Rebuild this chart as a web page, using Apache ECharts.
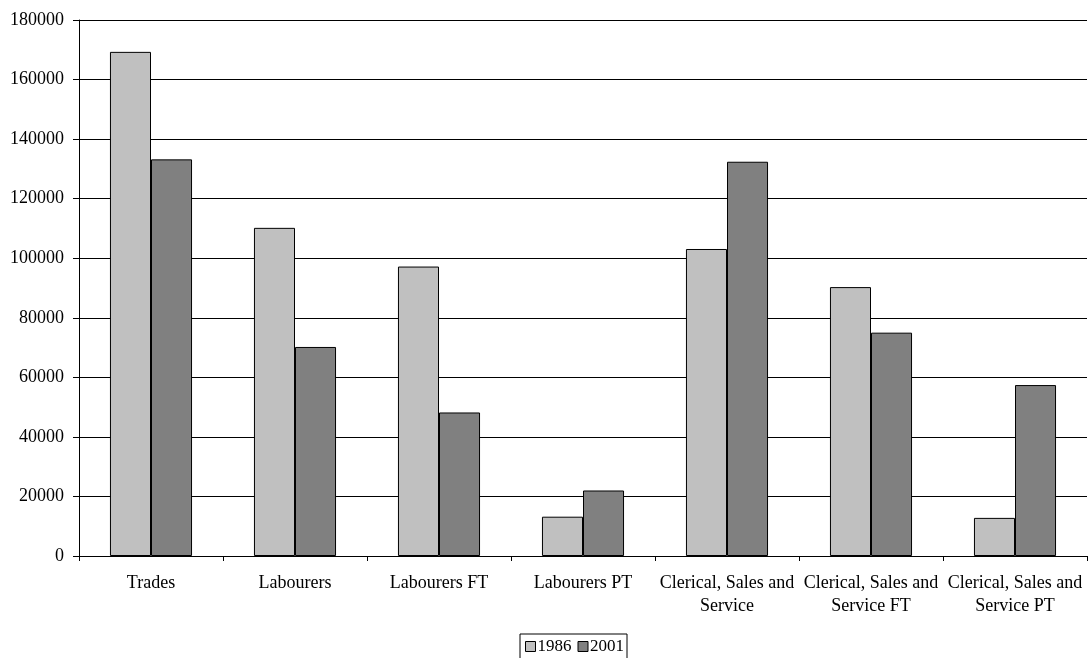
<!DOCTYPE html>
<html>
<head>
<meta charset="utf-8">
<script src="https://cdn.jsdelivr.net/npm/echarts@6/dist/echarts.min.js"></script>
<style>
  html, body { margin: 0; padding: 0; background: #fff; }
  #chart { width: 1089px; height: 658px; }
</style>
</head>
<body>
<div id="chart"></div>
<script>
// Occupation groups along the x axis
const categories = [
  'Trades',
  'Labourers',
  'Labourers FT',
  'Labourers PT',
  'Clerical, Sales and\nService',
  'Clerical, Sales and\nService FT',
  'Clerical, Sales and\nService PT'
];

// Counts per group for each census year
const values1986 = [169300, 110200, 97200, 13200, 103100, 90300, 12800];
const values2001 = [133200, 70200, 48200, 22000, 132400, 75000, 57400];

const seriesNames = ['1986', '2001'];

// Value axis settings
const yMin = 0;
const yMax = 180000;
const yStep = 20000;

const font = 'Liberation Serif, Times New Roman, serif';

const chart = echarts.init(document.getElementById('chart'), null, { renderer: 'canvas' });

chart.setOption({
  animation: false,
  backgroundColor: '#ffffff',
  textStyle: { fontFamily: font, color: '#000' },
  grid: { left: 79, right: 2, top: 20, bottom: 102, containLabel: false },
  legend: {
    data: seriesNames,
    left: 520,
    top: 634,
    orient: 'horizontal',
    icon: 'rect',
    itemWidth: 10,
    itemHeight: 10,
    itemGap: 6,
    padding: [4, 3, 12, 5],
    borderColor: '#000',
    borderWidth: 1,
    borderRadius: 0,
    backgroundColor: '#fff',
    itemStyle: { borderColor: '#000', borderWidth: 1 },
    textStyle: { fontFamily: font, fontSize: 17, color: '#000', padding: [0, 0, 0, -3] }
  },
  xAxis: {
    type: 'category',
    data: categories,
    axisLine: { show: true, lineStyle: { color: '#000', width: 1 } },
    axisTick: { show: true, alignWithLabel: false, length: 5, inside: false, lineStyle: { color: '#000' } },
    axisLabel: {
      interval: 0,
      margin: 16,
      fontFamily: font,
      fontSize: 18,
      lineHeight: 23,
      color: '#000',
      align: 'center'
    },
    splitLine: { show: false }
  },
  yAxis: {
    type: 'value',
    min: yMin,
    max: yMax,
    interval: yStep,
    axisLine: { show: true, lineStyle: { color: '#000', width: 1 } },
    axisTick: { show: true, length: 6, lineStyle: { color: '#000' } },
    axisLabel: {
      fontFamily: font,
      fontSize: 18,
      color: '#000',
      margin: 15,
      formatter: function (v) { return String(v); }
    },
    splitLine: { show: true, lineStyle: { color: '#000', width: 1 } }
  },
  series: [
    {
      name: seriesNames[0],
      type: 'bar',
      data: values1986,
      barGap: '0%',
      barCategoryGap: '43%',
      itemStyle: { color: '#c0c0c0', borderColor: '#000', borderWidth: 1 }
    },
    {
      name: seriesNames[1],
      type: 'bar',
      data: values2001,
      barGap: '0%',
      barCategoryGap: '43%',
      itemStyle: { color: '#808080', borderColor: '#000', borderWidth: 1 }
    }
  ]
});
</script>
</body>
</html>
